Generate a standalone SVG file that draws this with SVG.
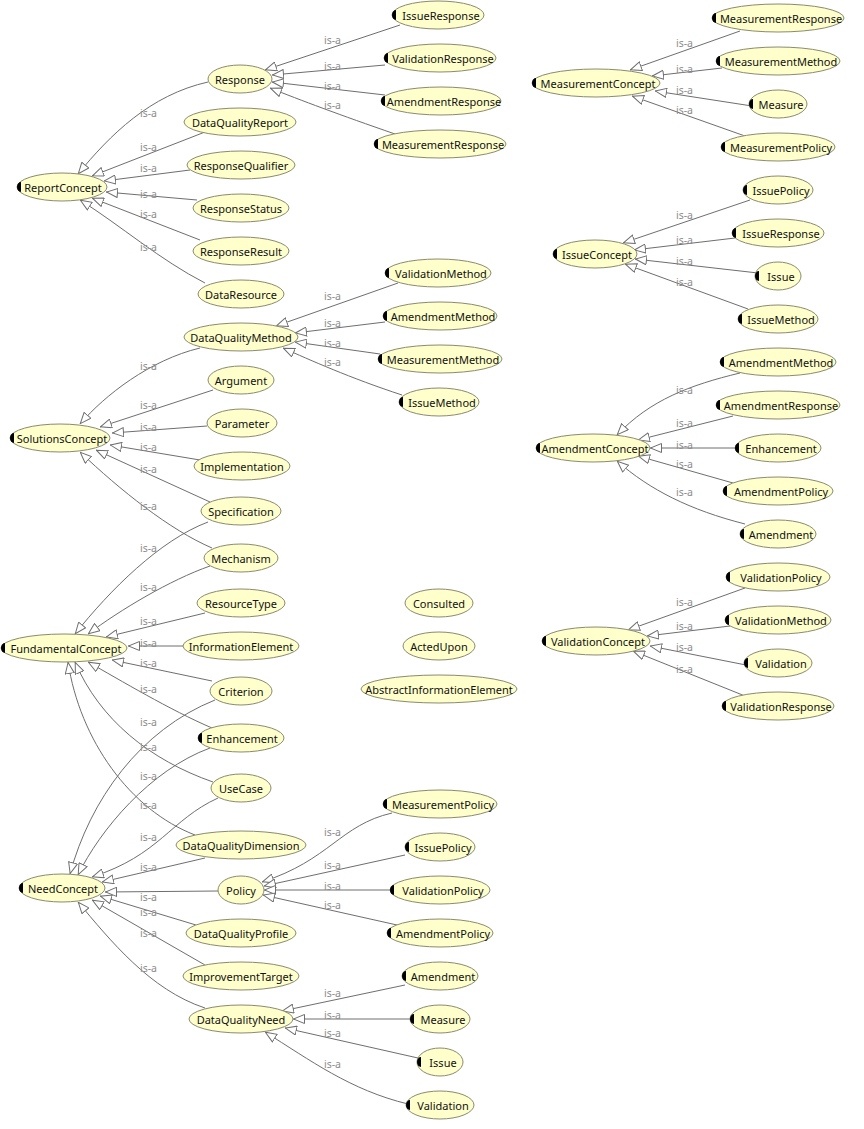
<svg xmlns="http://www.w3.org/2000/svg" width="864" height="1129" viewBox="0 0 864 1129">
<style>
.n ellipse{fill:#ffffcc;stroke:#8a8a70;stroke-width:1}
.n text{font-family:"Noto Sans","DejaVu Sans",sans-serif;font-size:11px;fill:#111;text-anchor:middle;dominant-baseline:central}
.k{fill:#000}
#edges path{fill:none;stroke:#6e6e6e;stroke-width:1;marker-end:url(#a)}
#edges text{font-family:"Noto Sans","DejaVu Sans",sans-serif;font-size:10.5px;fill:#8c8c8c}
</style>
<defs>
<marker id="a" viewBox="0 0 12 10" refX="12" refY="5" markerWidth="12" markerHeight="10" markerUnits="userSpaceOnUse" orient="auto">
<path d="M0.5,0.5 L11.5,5 L0.5,9.5 Z" fill="#fff" stroke="#6e6e6e"/>
</marker>
</defs>
<rect width="864" height="1129" fill="#fff"/>
<g id="edges">
<path d="M208,82 C150,95 110,135 78,174"/><text x="140" y="117">is-a</text>
<path d="M205,132 L92,176"/><text x="140" y="151">is-a</text>
<path d="M190,170 L104,181"/><text x="140" y="172">is-a</text>
<path d="M197,200 L106,192"/><text x="140" y="198">is-a</text>
<path d="M200,240 L92,198"/><text x="140" y="218">is-a</text>
<path d="M205,283 C160,260 120,225 80,200"/><text x="140" y="251">is-a</text>
<path d="M400,25 L265,70"/><text x="324" y="44">is-a</text>
<path d="M385,65 L272,75"/><text x="324" y="70">is-a</text>
<path d="M385,95 L272,82"/><text x="324" y="90">is-a</text>
<path d="M395,134 C340,115 300,100 270,88"/><text x="324" y="109">is-a</text>
<path d="M740,31 L630,70"/><text x="676" y="47">is-a</text>
<path d="M722,68 L652,76"/><text x="676" y="73">is-a</text>
<path d="M752,106 L655,91"/><text x="676" y="94">is-a</text>
<path d="M745,136 L632,96"/><text x="676" y="114">is-a</text>
<path d="M750,200 L623,243"/><text x="676" y="219">is-a</text>
<path d="M735,238 L634,250"/><text x="676" y="244">is-a</text>
<path d="M758,273 L635,259"/><text x="676" y="265">is-a</text>
<path d="M748,309 L625,264"/><text x="676" y="286">is-a</text>
<path d="M740,373 C690,385 650,400 617,435"/><text x="676" y="394">is-a</text>
<path d="M733,416 L638,440"/><text x="676" y="427">is-a</text>
<path d="M736,448 L650,448"/><text x="676" y="449">is-a</text>
<path d="M733,483 L638,456"/><text x="676" y="468">is-a</text>
<path d="M745,524 C690,510 650,490 617,461"/><text x="676" y="496">is-a</text>
<path d="M745,588 L628,630"/><text x="676" y="606">is-a</text>
<path d="M730,626 L647,636"/><text x="676" y="630">is-a</text>
<path d="M746,665 L650,646"/><text x="676" y="651">is-a</text>
<path d="M745,696 L633,651"/><text x="676" y="673">is-a</text>
<path d="M398,283 L276,326"/><text x="324" y="300">is-a</text>
<path d="M385,322 L295,333"/><text x="324" y="327">is-a</text>
<path d="M380,354 L295,342"/><text x="324" y="347">is-a</text>
<path d="M402,395 C350,378 310,360 283,348"/><text x="324" y="366">is-a</text>
<path d="M200,348 C150,360 105,395 80,424"/><text x="140" y="370">is-a</text>
<path d="M213,390 L100,427"/><text x="140" y="409">is-a</text>
<path d="M207,426 L112,433"/><text x="140" y="431">is-a</text>
<path d="M200,460 L110,445"/><text x="140" y="451">is-a</text>
<path d="M210,502 L96,450"/><text x="140" y="473">is-a</text>
<path d="M212,548 C170,530 120,490 80,452"/><text x="140" y="510">is-a</text>
<path d="M208,522 C160,540 110,590 75,634"/><text x="140" y="552">is-a</text>
<path d="M210,566 C170,580 120,610 88,634"/><text x="140" y="591">is-a</text>
<path d="M205,613 L106,637"/><text x="140" y="625">is-a</text>
<path d="M183,646 L128,646"/><text x="140" y="647">is-a</text>
<path d="M212,681 L112,660"/><text x="140" y="667">is-a</text>
<path d="M212,728 C170,710 120,680 88,662"/><text x="140" y="693">is-a</text>
<path d="M213,782 C150,760 100,720 75,662"/><text x="140" y="780">is-a</text>
<path d="M195,835 C130,810 80,740 68,662"/><text x="140" y="809">is-a</text>
<path d="M215,700 C140,730 90,800 70,874"/><text x="140" y="726">is-a</text>
<path d="M210,748 C150,770 100,830 78,875"/><text x="140" y="751">is-a</text>
<path d="M218,798 C170,820 160,855 92,877"/><text x="140" y="841">is-a</text>
<path d="M205,858 L102,882"/><text x="140" y="871">is-a</text>
<path d="M218,891 L105,892"/><text x="140" y="901">is-a</text>
<path d="M196,925 L100,896"/><text x="140" y="916">is-a</text>
<path d="M205,965 L92,900"/><text x="140" y="937">is-a</text>
<path d="M205,1008 C150,990 110,940 78,902"/><text x="140" y="972">is-a</text>
<path d="M392,813 C340,825 330,860 262,882"/><text x="324" y="836">is-a</text>
<path d="M405,855 L264,886"/><text x="324" y="869">is-a</text>
<path d="M392,890 L264,890"/><text x="324" y="890">is-a</text>
<path d="M397,925 L263,895"/><text x="324" y="909">is-a</text>
<path d="M405,985 L282,1011"/><text x="324" y="997">is-a</text>
<path d="M410,1019 L293,1019"/><text x="324" y="1019">is-a</text>
<path d="M418,1058 L285,1028"/><text x="324" y="1037">is-a</text>
<path d="M408,1104 C350,1090 310,1060 265,1032"/><text x="324" y="1068">is-a</text>
</g>
<g id="ReportConcept" class="n"><ellipse cx="62" cy="187" rx="45" ry="14"/><path class="k" d="M21,182 A4,5 0 0 0 21,192 Z"/><text x="63" y="187">ReportConcept</text></g>
<g id="Response" class="n"><ellipse cx="240" cy="79" rx="32" ry="14"/><text x="240" y="79">Response</text></g>
<g id="DataQualityReport" class="n"><ellipse cx="240" cy="122" rx="56" ry="14"/><text x="240" y="122">DataQualityReport</text></g>
<g id="ResponseQualifier" class="n"><ellipse cx="241" cy="165" rx="54" ry="14"/><text x="241" y="165">ResponseQualifier</text></g>
<g id="ResponseStatus" class="n"><ellipse cx="241" cy="208" rx="48" ry="14"/><text x="241" y="208">ResponseStatus</text></g>
<g id="ResponseResult" class="n"><ellipse cx="241" cy="251" rx="48" ry="14"/><text x="241" y="251">ResponseResult</text></g>
<g id="DataResource" class="n"><ellipse cx="241" cy="294" rx="43" ry="14"/><text x="241" y="294">DataResource</text></g>
<g id="IssueResponse1" class="n"><ellipse cx="438" cy="15" rx="46" ry="14"/><path class="k" d="M396,10 A4,5 0 0 0 396,20 Z"/><text x="441" y="15">IssueResponse</text></g>
<g id="ValidationResponse1" class="n"><ellipse cx="440" cy="58" rx="56" ry="14"/><path class="k" d="M388,53 A4,5 0 0 0 388,63 Z"/><text x="443" y="58">ValidationResponse</text></g>
<g id="AmendmentResponse1" class="n"><ellipse cx="441" cy="101" rx="60" ry="14"/><path class="k" d="M385,96 A4,5 0 0 0 385,106 Z"/><text x="444" y="101">AmendmentResponse</text></g>
<g id="MeasurementResponse1" class="n"><ellipse cx="440" cy="144" rx="66" ry="14"/><path class="k" d="M378,139 A4,5 0 0 0 378,149 Z"/><text x="443" y="144">MeasurementResponse</text></g>
<g id="MeasurementConcept" class="n"><ellipse cx="596" cy="83" rx="64" ry="14"/><path class="k" d="M536,78 A4,5 0 0 0 536,88 Z"/><text x="598" y="83">MeasurementConcept</text></g>
<g id="MeasurementResponse2" class="n"><ellipse cx="778" cy="18" rx="66" ry="14"/><path class="k" d="M716,13 A4,5 0 0 0 716,23 Z"/><text x="781" y="18">MeasurementResponse</text></g>
<g id="MeasurementMethod2" class="n"><ellipse cx="778" cy="61" rx="62" ry="14"/><path class="k" d="M720,56 A4,5 0 0 0 720,66 Z"/><text x="781" y="61">MeasurementMethod</text></g>
<g id="Measure2" class="n"><ellipse cx="778" cy="104" rx="29" ry="14"/><path class="k" d="M753,99 A4,5 0 0 0 753,109 Z"/><text x="781" y="104">Measure</text></g>
<g id="MeasurementPolicy2" class="n"><ellipse cx="778" cy="147" rx="57" ry="14"/><path class="k" d="M725,142 A4,5 0 0 0 725,152 Z"/><text x="781" y="147">MeasurementPolicy</text></g>
<g id="IssueConcept" class="n"><ellipse cx="595" cy="254" rx="42" ry="14"/><path class="k" d="M557,249 A4,5 0 0 0 557,259 Z"/><text x="597" y="254">IssueConcept</text></g>
<g id="IssuePolicy2" class="n"><ellipse cx="778" cy="190" rx="35" ry="14"/><path class="k" d="M747,185 A4,5 0 0 0 747,195 Z"/><text x="781" y="190">IssuePolicy</text></g>
<g id="IssueResponse2" class="n"><ellipse cx="778" cy="233" rx="46" ry="14"/><path class="k" d="M736,228 A4,5 0 0 0 736,238 Z"/><text x="781" y="233">IssueResponse</text></g>
<g id="Issue2" class="n"><ellipse cx="778" cy="276" rx="23" ry="14"/><path class="k" d="M759,271 A4,5 0 0 0 759,281 Z"/><text x="781" y="276">Issue</text></g>
<g id="IssueMethod2" class="n"><ellipse cx="778" cy="319" rx="40" ry="14"/><path class="k" d="M742,314 A4,5 0 0 0 742,324 Z"/><text x="781" y="319">IssueMethod</text></g>
<g id="AmendmentConcept" class="n"><ellipse cx="593" cy="448" rx="57" ry="14"/><path class="k" d="M540,443 A4,5 0 0 0 540,453 Z"/><text x="595" y="448">AmendmentConcept</text></g>
<g id="AmendmentMethod2" class="n"><ellipse cx="778" cy="362" rx="58" ry="14"/><path class="k" d="M724,357 A4,5 0 0 0 724,367 Z"/><text x="781" y="362">AmendmentMethod</text></g>
<g id="AmendmentResponse2" class="n"><ellipse cx="778" cy="405" rx="62" ry="14"/><path class="k" d="M720,400 A4,5 0 0 0 720,410 Z"/><text x="781" y="405">AmendmentResponse</text></g>
<g id="Enhancement2" class="n"><ellipse cx="778" cy="448" rx="43" ry="14"/><path class="k" d="M739,443 A4,5 0 0 0 739,453 Z"/><text x="781" y="448">Enhancement</text></g>
<g id="AmendmentPolicy2" class="n"><ellipse cx="778" cy="491" rx="55" ry="14"/><path class="k" d="M727,486 A4,5 0 0 0 727,496 Z"/><text x="781" y="491">AmendmentPolicy</text></g>
<g id="Amendment2" class="n"><ellipse cx="778" cy="534" rx="38" ry="14"/><path class="k" d="M744,529 A4,5 0 0 0 744,539 Z"/><text x="781" y="534">Amendment</text></g>
<g id="ValidationConcept" class="n"><ellipse cx="596" cy="641" rx="54" ry="14"/><path class="k" d="M546,636 A4,5 0 0 0 546,646 Z"/><text x="598" y="641">ValidationConcept</text></g>
<g id="ValidationPolicy2" class="n"><ellipse cx="778" cy="577" rx="52" ry="14"/><path class="k" d="M730,572 A4,5 0 0 0 730,582 Z"/><text x="781" y="577">ValidationPolicy</text></g>
<g id="ValidationMethod2" class="n"><ellipse cx="778" cy="620" rx="53" ry="14"/><path class="k" d="M729,615 A4,5 0 0 0 729,625 Z"/><text x="781" y="620">ValidationMethod</text></g>
<g id="Validation2" class="n"><ellipse cx="778" cy="663" rx="34" ry="14"/><path class="k" d="M748,658 A4,5 0 0 0 748,668 Z"/><text x="781" y="663">Validation</text></g>
<g id="ValidationResponse2" class="n"><ellipse cx="778" cy="706" rx="56" ry="14"/><path class="k" d="M726,701 A4,5 0 0 0 726,711 Z"/><text x="781" y="706">ValidationResponse</text></g>
<g id="DataQualityMethod" class="n"><ellipse cx="241" cy="337" rx="57" ry="14"/><text x="241" y="337">DataQualityMethod</text></g>
<g id="ValidationMethod1" class="n"><ellipse cx="438" cy="273" rx="53" ry="14"/><path class="k" d="M389,268 A4,5 0 0 0 389,278 Z"/><text x="441" y="273">ValidationMethod</text></g>
<g id="AmendmentMethod1" class="n"><ellipse cx="440" cy="316" rx="57" ry="14"/><path class="k" d="M387,311 A4,5 0 0 0 387,321 Z"/><text x="443" y="316">AmendmentMethod</text></g>
<g id="MeasurementMethod1" class="n"><ellipse cx="440" cy="359" rx="62" ry="14"/><path class="k" d="M382,354 A4,5 0 0 0 382,364 Z"/><text x="443" y="359">MeasurementMethod</text></g>
<g id="IssueMethod1" class="n"><ellipse cx="439" cy="402" rx="40" ry="14"/><path class="k" d="M403,397 A4,5 0 0 0 403,407 Z"/><text x="442" y="402">IssueMethod</text></g>
<g id="SolutionsConcept" class="n"><ellipse cx="60" cy="438" rx="50" ry="14"/><path class="k" d="M14,433 A4,5 0 0 0 14,443 Z"/><text x="62" y="438">SolutionsConcept</text></g>
<g id="Argument" class="n"><ellipse cx="241" cy="380" rx="33" ry="14"/><text x="241" y="380">Argument</text></g>
<g id="Parameter" class="n"><ellipse cx="242" cy="423" rx="35" ry="14"/><text x="242" y="423">Parameter</text></g>
<g id="Implementation" class="n"><ellipse cx="242" cy="466" rx="48" ry="14"/><text x="242" y="466">Implementation</text></g>
<g id="Specification" class="n"><ellipse cx="241" cy="511" rx="40" ry="14"/><text x="241" y="511">Specification</text></g>
<g id="Mechanism" class="n"><ellipse cx="241" cy="558" rx="37" ry="14"/><text x="241" y="558">Mechanism</text></g>
<g id="FundamentalConcept" class="n"><ellipse cx="64" cy="648" rx="63" ry="14"/><path class="k" d="M5,643 A4,5 0 0 0 5,653 Z"/><text x="66" y="648">FundamentalConcept</text></g>
<g id="ResourceType" class="n"><ellipse cx="241" cy="603" rx="44" ry="14"/><text x="241" y="603">ResourceType</text></g>
<g id="InformationElement" class="n"><ellipse cx="241" cy="646" rx="58" ry="14"/><text x="241" y="646">InformationElement</text></g>
<g id="Criterion" class="n"><ellipse cx="241" cy="691" rx="31" ry="14"/><text x="241" y="691">Criterion</text></g>
<g id="Enhancement1" class="n"><ellipse cx="241" cy="738" rx="43" ry="14"/><path class="k" d="M202,733 A4,5 0 0 0 202,743 Z"/><text x="242" y="738">Enhancement</text></g>
<g id="UseCase" class="n"><ellipse cx="241" cy="788" rx="30" ry="14"/><text x="241" y="788">UseCase</text></g>
<g id="DataQualityDimension" class="n"><ellipse cx="241" cy="845" rx="65" ry="14"/><text x="241" y="845">DataQualityDimension</text></g>
<g id="Consulted" class="n"><ellipse cx="439" cy="603" rx="34" ry="14"/><text x="439" y="603">Consulted</text></g>
<g id="ActedUpon" class="n"><ellipse cx="439" cy="646" rx="36" ry="14"/><text x="439" y="646">ActedUpon</text></g>
<g id="AbstractInformationElement" class="n"><ellipse cx="439" cy="689" rx="78" ry="14"/><text x="439" y="689">AbstractInformationElement</text></g>
<g id="NeedConcept" class="n"><ellipse cx="62" cy="888" rx="43" ry="14"/><path class="k" d="M23,883 A4,5 0 0 0 23,893 Z"/><text x="63" y="888">NeedConcept</text></g>
<g id="Policy" class="n"><ellipse cx="241" cy="890" rx="23" ry="14"/><text x="241" y="890">Policy</text></g>
<g id="DataQualityProfile" class="n"><ellipse cx="241" cy="933" rx="55" ry="14"/><text x="241" y="933">DataQualityProfile</text></g>
<g id="ImprovementTarget" class="n"><ellipse cx="241" cy="976" rx="58" ry="14"/><text x="241" y="976">ImprovementTarget</text></g>
<g id="DataQualityNeed" class="n"><ellipse cx="241" cy="1019" rx="52" ry="14"/><text x="241" y="1019">DataQualityNeed</text></g>
<g id="MeasurementPolicy1" class="n"><ellipse cx="440" cy="804" rx="57" ry="14"/><path class="k" d="M387,799 A4,5 0 0 0 387,809 Z"/><text x="443" y="804">MeasurementPolicy</text></g>
<g id="IssuePolicy1" class="n"><ellipse cx="440" cy="847" rx="35" ry="14"/><path class="k" d="M409,842 A4,5 0 0 0 409,852 Z"/><text x="443" y="847">IssuePolicy</text></g>
<g id="ValidationPolicy1" class="n"><ellipse cx="440" cy="890" rx="50" ry="14"/><path class="k" d="M394,885 A4,5 0 0 0 394,895 Z"/><text x="443" y="890">ValidationPolicy</text></g>
<g id="AmendmentPolicy1" class="n"><ellipse cx="440" cy="933" rx="53" ry="14"/><path class="k" d="M391,928 A4,5 0 0 0 391,938 Z"/><text x="443" y="933">AmendmentPolicy</text></g>
<g id="Amendment1" class="n"><ellipse cx="440" cy="976" rx="38" ry="14"/><path class="k" d="M406,971 A4,5 0 0 0 406,981 Z"/><text x="443" y="976">Amendment</text></g>
<g id="Measure1" class="n"><ellipse cx="440" cy="1019" rx="30" ry="14"/><path class="k" d="M414,1014 A4,5 0 0 0 414,1024 Z"/><text x="443" y="1019">Measure</text></g>
<g id="Issue1" class="n"><ellipse cx="440" cy="1062" rx="23" ry="14"/><path class="k" d="M421,1057 A4,5 0 0 0 421,1067 Z"/><text x="443" y="1062">Issue</text></g>
<g id="Validation1" class="n"><ellipse cx="440" cy="1105" rx="34" ry="14"/><path class="k" d="M410,1100 A4,5 0 0 0 410,1110 Z"/><text x="443" y="1105">Validation</text></g>
</svg>
